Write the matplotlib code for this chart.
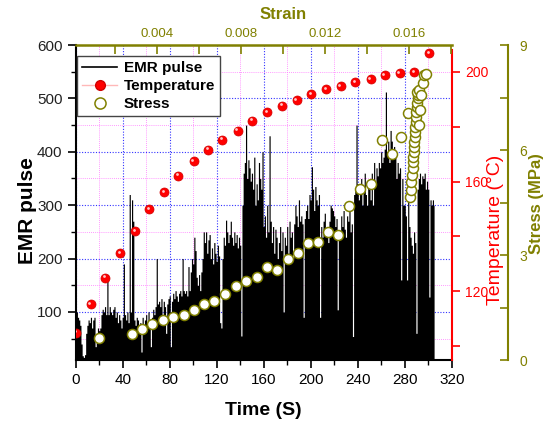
import matplotlib
matplotlib.use('Agg')
import matplotlib.pyplot as plt
from matplotlib.lines import Line2D
from matplotlib.ticker import MultipleLocator, FormatStrFormatter
from matplotlib.font_manager import FontProperties
import matplotlib.transforms as mtrans
import numpy as np

plt.rcParams['font.family'] = ['Liberation Sans', 'DejaVu Sans']

# ---------------- data ----------------
emr_pulse = [
    95, 100, 90, 85, 75, 40, 18, 15, 20, 60,
    75, 85, 80, 90, 70, 85, 90, 35, 60, 70,
    65, 70, 95, 105, 100, 110, 95, 170, 95, 110,
    100, 95, 105, 110, 90, 100, 80, 95, 85, 70,
    90, 190, 95, 85, 100, 80, 320, 100, 310, 270,
    85, 75, 90, 85, 70, 80, 25, 90, 75, 85,
    95, 80, 100, 85, 35, 90, 105, 95, 110, 200,
    115, 120, 110, 125, 95, 120, 110, 60, 115, 125,
    130, 35, 120, 135, 125, 140, 130, 120, 135, 140,
    130, 200, 140, 135, 140, 130, 185, 140, 175, 200,
    190, 240, 215, 165, 150, 170, 140, 175, 200, 250,
    230, 250, 210, 235, 245, 200, 220, 190, 230, 210,
    195, 225, 205, 80, 70, 200, 240, 225, 272, 250,
    230, 245, 270, 240, 225, 250, 230, 245, 220, 240,
    225, 55, 300, 360, 380, 450, 350, 385, 370, 345,
    360, 330, 390, 300, 340, 310, 380, 350, 330, 400,
    260, 280, 240, 300, 250, 430, 270, 230, 260, 210,
    255, 240, 200, 230, 260, 215, 250, 100, 240, 225,
    260, 210, 270, 240, 250, 200, 265, 300, 280, 260,
    310, 270, 280, 265, 90, 275, 290, 300, 275, 320,
    310, 372, 330, 290, 335, 310, 300, 320, 90, 260,
    240, 270, 285, 250, 260, 230, 270, 300, 295, 290,
    280, 260, 275, 104, 250, 245, 280, 260, 290, 255,
    240, 280, 270, 290, 250, 265, 54, 320, 330, 450,
    340, 310, 320, 350, 300, 335, 360, 320, 300, 340,
    330, 310, 360, 300, 380, 340, 370, 355, 380, 370,
    400, 380, 390, 405, 512, 400, 420, 380, 440, 420,
    400, 410, 390, 350, 380, 360, 370, 160, 350, 300,
    300, 280, 160, 310, 260, 240, 225, 210, 250, 230,
    60, 330, 350, 360, 340, 355, 350, 360, 330, 345,
    330, 128, 310, 300, 310, 300,
]
emr_time = list(range(len(emr_pulse)))

temp_time = [0.3, 12.7, 24.9, 37.7, 50.5, 62.4, 75.4, 87.3, 100.4, 112.9,
             124.8, 137.9, 150.3, 163.1, 175.6, 188.0, 200.3, 213.0, 225.5,
             238.0, 251.0, 263.0, 275.7, 288.0, 301.0]
temperature = [105.0, 115.4, 125.0, 133.8, 142.0, 149.9, 156.2, 162.1, 167.5,
               171.6, 175.2, 178.5, 182.2, 185.2, 187.6, 189.7, 191.8, 193.6,
               194.8, 196.1, 197.3, 198.7, 199.4, 199.9, 206.7]

stress_time = [19.8, 47.6, 56.1, 65.2, 74.6, 83.1, 92.2, 101.0, 109.5, 118.0,
               127.0, 136.4, 145.0, 154.0, 162.6, 171.6, 180.4, 189.0, 197.4,
               206.5, 215.0, 223.5, 232.6, 242.0, 251.0, 260.4, 269.5, 276.6,
               282.5, 284.5, 285.1, 285.6, 286.2, 286.8, 287.1, 287.4, 287.6,
               287.9, 288.2, 288.5, 288.8, 289.0, 289.3, 289.6, 289.9, 290.2,
               290.4, 291.0, 291.6, 290.2, 291.9, 292.4, 293.0, 293.8, 295.2,
               296.4, 297.8]
stress = [0.62, 0.75, 0.90, 1.03, 1.14, 1.24, 1.30, 1.43, 1.60, 1.69,
          1.90, 2.11, 2.26, 2.38, 2.66, 2.57, 2.90, 3.05, 3.33,
          3.37, 3.67, 3.57, 4.41, 4.88, 5.02, 6.29, 5.88, 6.36,
          7.05, 4.67, 4.86, 5.10, 5.29, 5.48, 5.67, 5.81, 5.95,
          6.10, 6.24, 6.38, 6.52, 6.67, 6.81, 6.95, 7.10, 7.24,
          7.35, 7.48, 7.57, 7.67, 7.71, 6.71, 7.14, 7.57, 7.92,
          8.14, 8.17]

olive = '#808000'

# ---------------- figure ----------------
fig = plt.figure(figsize=(5.48, 4.25), dpi=100)
ax = fig.add_axes([0.1381, 0.1529, 0.6862, 0.7412])

ax.fill_between(emr_time, 0, emr_pulse, step='mid', color='black',
                linewidth=0, zorder=2)
ax.set_xlim(0, 320)
ax.set_ylim(10, 600)
ax.xaxis.set_major_locator(MultipleLocator(40))
ax.xaxis.set_minor_locator(MultipleLocator(20))
ax.yaxis.set_major_locator(MultipleLocator(100))
ax.yaxis.set_minor_locator(MultipleLocator(50))
ax.set_axisbelow(True)
ax.grid(which='major', color='#3333ff', linestyle=(0, (1, 1.5)), linewidth=0.8)
ax.grid(which='minor', color='#ff77ff', linestyle=(0, (1, 1.5)), linewidth=0.6)
ax.tick_params(which='major', direction='out', length=6, width=1.2,
               labelsize=11, top=False, right=False, colors='black')
ax.tick_params(which='minor', direction='out', length=3.5, width=1.0,
               top=False, right=False)
ax.tick_params(axis='y', labelcolor='#222222')
for s in ('top', 'right'):
    ax.spines[s].set_visible(False)
for s in ('left', 'bottom'):
    ax.spines[s].set_linewidth(1.5)
ax.set_xlabel('Time (S)', fontsize=14, fontweight='bold', va='center')
ax.xaxis.set_label_coords(0.5, -0.159)
ax.set_ylabel('EMR pulse', fontsize=15, fontweight='bold', va='center')
ax.yaxis.set_label_coords(-0.127, 0.476)

# temperature axis
ax_t = ax.twinx()
ax_t.plot(temp_time, temperature, 'o', color='red', ms=6.5,
          mec='#d00000', mew=0.5, zorder=3)
hl = mtrans.offset_copy(ax_t.transData, fig=fig, x=-1.0, y=1.0, units='points')
ax_t.plot(temp_time, temperature, 'o', color='#ffc8c8', ms=2.0, mec='none',
          transform=hl, zorder=4)
ax_t.set_ylim(95, 209.7)
ax_t.yaxis.set_major_locator(MultipleLocator(40))
ax_t.yaxis.set_minor_locator(MultipleLocator(20))
ax_t.tick_params(axis='y', which='both', direction='out', length=6, width=1.2,
                 colors='red', labelsize=10)
for s in ('top', 'left', 'bottom'):
    ax_t.spines[s].set_visible(False)
ax_t.spines['right'].set_color('red')
ax_t.spines['right'].set_linewidth(1.5)
ax_t.spines['right'].set_bounds(95, 208)
ax_t.set_ylabel('Temperature (°C)', color='red', fontsize=14, va='center')
ax_t.yaxis.set_label_coords(1.117, 0.413)

# stress axis
ax_s = ax.twinx()
ax_s.plot(stress_time, stress, 'o', mfc='white', mec=olive, ms=7.2, mew=1.1,
          zorder=5)
ax_s.set_ylim(0, 9)
ax_s.yaxis.set_major_locator(MultipleLocator(3))
ax_s.yaxis.set_minor_locator(MultipleLocator(1.5))
ax_s.spines['right'].set_position(('axes', 1.1497))
for s in ('top', 'left', 'bottom'):
    ax_s.spines[s].set_visible(False)
ax_s.spines['right'].set_color(olive)
ax_s.spines['right'].set_linewidth(1.5)
ax_s.tick_params(axis='y', which='both', direction='in', length=5.5, width=1.2,
                 colors=olive, labelsize=10, pad=8)
ax_s.set_ylabel('Stress (MPa)', color=olive, fontsize=12, fontweight='bold',
                va='center')
ax_s.yaxis.set_label_coords(1.226, 0.498)

# strain axis (top)
ax_top = ax.twiny()
ax_top.set_xlim(0.00013, 0.01803)
ax_top.xaxis.set_major_locator(MultipleLocator(0.004))
ax_top.xaxis.set_minor_locator(MultipleLocator(0.002))
ax_top.xaxis.set_major_formatter(FormatStrFormatter('%.3f'))
ax_top.tick_params(axis='x', which='both', direction='in', length=6.5,
                   width=1.2, colors=olive, labelsize=9.5)
for s in ('left', 'right', 'bottom'):
    ax_top.spines[s].set_visible(False)
ax_top.spines['top'].set_color(olive)
ax_top.spines['top'].set_linewidth(1.8)
ax_top.set_xlabel('Strain', color=olive, fontsize=12, fontweight='bold',
                  va='center')
ax_top.xaxis.set_label_coords(0.551, 1.098)

# legend
h1 = Line2D([], [], color='black', lw=1.2)
h2 = Line2D([], [], color='#ffb8b8', lw=1.0, marker='o', mfc='red',
            mec='#d00000', ms=7)
h3 = Line2D([], [], ls='none', marker='o', mfc='white', mec=olive, ms=8,
            mew=1.1)
fp = FontProperties(family='Liberation Sans', weight='bold', size=11)
leg = ax_top.legend([h1, h2, h3], ['EMR pulse', 'Temperature', 'Stress'],
                    loc='upper left', bbox_to_anchor=(0.0035, 0.965),
                    bbox_transform=ax.transAxes, frameon=True, fancybox=False,
                    edgecolor='#444444', framealpha=1, prop=fp,
                    borderaxespad=0, handlelength=2.3, handletextpad=0.4,
                    labelspacing=0.25, borderpad=0.35)
leg.get_frame().set_linewidth(1.0)

fig.savefig('out.png', dpi=100)
